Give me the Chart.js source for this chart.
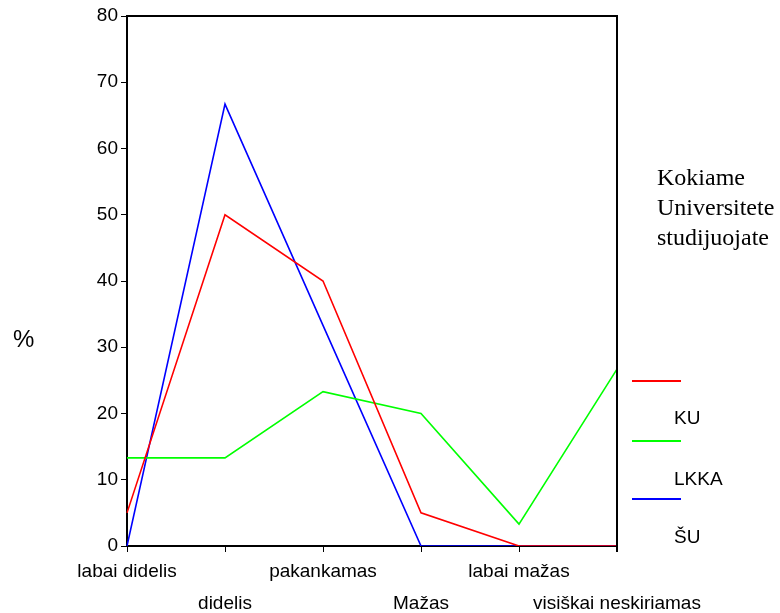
<!DOCTYPE html>
<html>
<head>
<meta charset="utf-8">
<script src="https://cdn.jsdelivr.net/npm/chart.js@4"></script>
<style>
  html, body { margin:0; padding:0; background:#fff; }
  #wrap { position:relative; width:780px; height:613px; }
</style>
</head>
<body>
<div id="wrap"><canvas id="chart" width="780" height="613"></canvas></div>
<script>
// Duomenys (%)
const kategorijos = ['labai didelis', 'didelis', 'pakankamas', 'Mažas', 'labai mažas', 'visiškai neskiriamas'];
const serijos = ['KU', 'LKKA', 'ŠU'];
const ku   = [5, 50, 40, 5, 0, 0];
const lkka = [13.3, 13.3, 23.3, 20, 3.3, 26.7];
const su   = [0, 66.7, 33.3, 0, 0, 0];
const spalvos = ['#ff0000', '#00ff00', '#0000ff'];
const yTicks = [0, 10, 20, 30, 40, 50, 60, 70, 80];
const legendosPavadinimas = ['Kokiame', 'Universitete', 'studijuojate'];

const FONT = 'Arial, "Liberation Sans", sans-serif';

// remelis, % ir legenda
const extras = {
  id: 'extras',
  afterDraw(chart) {
    const { ctx, chartArea: a } = chart;
    ctx.save();
    ctx.strokeStyle = '#000';
    ctx.lineWidth = 2;
    ctx.beginPath();
    ctx.moveTo(a.left, a.top);
    ctx.lineTo(a.right, a.top);
    ctx.lineTo(a.right, a.bottom + 6);
    ctx.stroke();

    ctx.fillStyle = '#000';
    ctx.font = '24px ' + FONT;
    ctx.textBaseline = 'middle';
    ctx.textAlign = 'left';
    ctx.fillText('%', 13, 340);

    ctx.font = '24px "Liberation Serif", "Times New Roman", serif';
    legendosPavadinimas.forEach((t, i) => ctx.fillText(t, 657, 179 + i * 30));

    ctx.font = '19px ' + FONT;
    const lineY = [381, 441, 499];
    const textY = [419, 480, 538];
    serijos.forEach((s, i) => {
      ctx.strokeStyle = spalvos[i];
      ctx.lineWidth = 2;
      ctx.beginPath();
      ctx.moveTo(632, lineY[i]);
      ctx.lineTo(681, lineY[i]);
      ctx.stroke();
      ctx.fillText(s, 674, textY[i]);
    });
    ctx.restore();
  }
};

new Chart(document.getElementById('chart'), {
  type: 'line',
  data: {
    labels: kategorijos,
    datasets: [ku, lkka, su].map((d, i) => ({
      label: serijos[i], data: d, borderColor: spalvos[i], borderWidth: 1.6,
      pointRadius: 0, tension: 0, fill: false
    }))
  },
  options: {
    responsive: false, animation: false,
    layout: { padding: { left: 0, right: 163, top: 16, bottom: 0 } },
    plugins: { legend: { display: false }, tooltip: { enabled: false } },
    scales: {
      x: {
        offset: false,
        afterFit: s => { s.height = 67; },
        border: { display: true, color: '#000', width: 2 },
        grid: { drawOnChartArea: false, drawTicks: true, tickLength: 6, color: '#000' },
        ticks: {
          color: '#000', maxRotation: 0, autoSkip: false, padding: 4,
          font: { family: FONT, size: 19, lineHeight: 1.68 },
          callback: function (v, i) { const t = kategorijos[i]; return i % 2 === 0 ? [t, ''] : ['', t]; }
        }
      },
      y: {
        min: 0, max: 80,
        afterFit: s => { s.width = 127; },
        afterBuildTicks: s => { s.ticks = yTicks.map(v => ({ value: v })); },
        border: { display: true, color: '#000', width: 2 },
        grid: { drawOnChartArea: false, drawTicks: true, tickLength: 6, color: '#000' },
        ticks: { color: '#000', padding: 3, font: { family: FONT, size: 19 } }
      }
    }
  },
  plugins: [extras]
});
</script>
</body>
</html>
